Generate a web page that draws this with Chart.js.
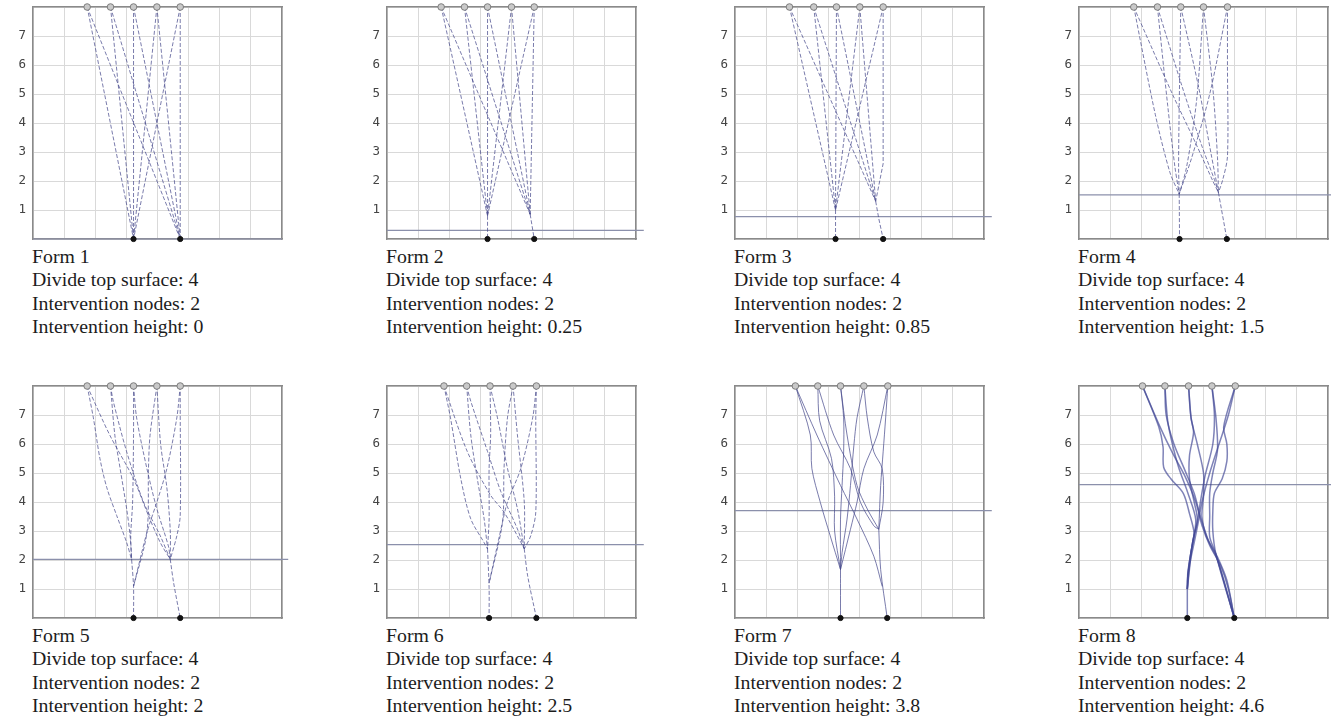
<!DOCTYPE html>
<html>
<head>
<meta charset="utf-8">
<script src="https://cdn.jsdelivr.net/npm/chart.js@4"></script>
<style>
  html, body { margin: 0; padding: 0; background: #fff; }
  body { width: 1331px; height: 726px; position: relative; overflow: hidden; }
  canvas { position: absolute; }
  .caption {
    position: absolute;
    font-family: "Liberation Serif", "Times New Roman", serif;
    font-size: 19.8px;
    line-height: 23.3px;
    color: #1c1c1c;
    white-space: nowrap;
  }
</style>
</head>
<body>
<script>
// labels under each panel
const formNames = ['Form 1', 'Form 2', 'Form 3', 'Form 4', 'Form 5', 'Form 6', 'Form 7', 'Form 8'];
const divideTop = [4, 4, 4, 4, 4, 4, 4, 4];
const interventionNodes = [2, 2, 2, 2, 2, 2, 2, 2];
const interventionHeight = ['0', '0.25', '0.85', '1.5', '2', '2.5', '3.8', '4.6'];

// horizontal marker line (height as drawn, and where it stops on the right)
const markY = [0, 0.3, 0.77, 1.52, 2.02, 2.53, 3.7, 4.6];
const markEnd = [8, 8.25, 8.25, 8.6, 8.2, 8.25, 8.25, 8.6];

// top surface nodes (y = 8) and ground nodes (y = 0)
const topX = [
  [1.74, 2.49, 3.23, 3.98, 4.73],
  [1.74, 2.49, 3.23, 4.0, 4.73],
  [1.75, 2.53, 3.26, 4.01, 4.76],
  [1.76, 2.52, 3.27, 4.0, 4.77],
  [1.74, 2.49, 3.23, 3.98, 4.73],
  [1.83, 2.56, 3.31, 4.05, 4.8],
  [1.94, 2.66, 3.39, 4.14, 4.91],
  [2.04, 2.76, 3.52, 4.27, 5.02]
];
const baseX = [
  [3.23, 4.73], [3.23, 4.73], [3.23, 4.76], [3.23, 4.75],
  [3.23, 4.73], [3.28, 4.8], [3.39, 4.89], [3.48, 4.99]
];

// branch paths, [x, y] points
const form1Paths = [
  [[1.74, 8], [3.23, 0]], [[2.49, 8], [3.23, 0]], [[3.23, 8], [3.23, 0]], [[3.98, 8], [3.23, 0]], [[4.73, 8], [3.23, 0]],
  [[1.74, 8], [4.73, 0]], [[2.49, 8], [4.73, 0]], [[3.23, 8], [4.73, 0]], [[3.98, 8], [4.73, 0]], [[4.73, 8], [4.73, 0]]
];
const form2Paths = [
  [[1.74, 8], [3.23, 0.8]], [[2.49, 8], [3.23, 0.8]], [[3.23, 8], [3.23, 0.8]], [[4.0, 8], [3.23, 0.8]], [[4.73, 8], [3.23, 0.8]],
  [[3.23, 0.8], [3.23, 0]],
  [[1.74, 8], [4.6, 0.85]], [[2.49, 8], [4.6, 0.85]], [[3.23, 8], [4.6, 0.85]], [[4.0, 8], [4.6, 0.85]], [[4.73, 8], [4.6, 0.85]],
  [[4.6, 0.85], [4.73, 0]]
];
const form3Paths = [
  [[1.75, 8], [3.23, 1.0]], [[2.53, 8], [3.23, 1.0]], [[3.26, 8], [3.23, 1.0]], [[4.01, 8], [3.23, 1.0]], [[4.76, 8], [3.23, 1.0]],
  [[3.23, 1.0], [3.23, 0]],
  [[1.75, 8], [4.52, 1.3]], [[2.53, 8], [4.52, 1.3]], [[3.26, 8], [4.52, 1.3]], [[4.01, 8], [4.52, 1.3]],
  [[4.76, 8], [4.76, 6.3], [4.76, 2.6], [4.52, 1.3]],
  [[4.52, 1.3], [4.62, 0.7], [4.76, 0]]
];
const form4Paths = [
  [[1.76, 8], [2.45, 4.3], [2.92, 2.3], [3.22, 1.55]],
  [[2.52, 8], [2.85, 4.6], [3.08, 2.5], [3.22, 1.55]],
  [[3.27, 8], [3.22, 4.6], [3.2, 2.5], [3.22, 1.55]],
  [[4.0, 8], [3.78, 4.8], [3.46, 2.5], [3.22, 1.55]],
  [[4.77, 8], [4.2, 5.0], [3.62, 2.8], [3.22, 1.55]],
  [[3.22, 1.55], [3.23, 0]],
  [[1.76, 8], [3.0, 5.0], [3.75, 3.3], [4.3, 2.0], [4.48, 1.6]],
  [[2.52, 8], [3.3, 5.3], [3.95, 3.2], [4.35, 2.05], [4.48, 1.6]],
  [[3.27, 8], [3.85, 5.2], [4.25, 2.9], [4.48, 1.6]],
  [[4.0, 8], [4.3, 5.2], [4.45, 2.8], [4.48, 1.6]],
  [[4.77, 8], [4.77, 6.0], [4.77, 2.85], [4.62, 2.05], [4.48, 1.6]],
  [[4.48, 1.6], [4.75, 0]]
];
const form5Paths = [
  [[1.74, 8], [1.94, 6.9], [2.15, 5.5], [2.37, 4.5], [2.69, 3.53], [3.01, 2.6], [3.17, 2.0]],
  [[2.49, 8], [2.63, 6.3], [2.8, 5.15], [3.01, 3.76], [3.12, 2.83], [3.17, 2.0]],
  [[3.23, 8], [3.23, 6.3], [3.2, 4.0], [3.14, 2.83], [3.17, 2.0]],
  [[3.98, 8], [3.76, 6.3], [3.71, 5.15], [3.66, 2.95], [3.23, 1.09]],
  [[4.73, 8], [4.62, 6.9], [4.3, 5.15], [3.98, 4.0], [3.66, 2.95], [3.23, 1.09]],
  [[3.17, 2.0], [3.23, 1.09], [3.23, 0]],
  [[1.74, 8], [2.47, 6.3], [3.23, 4.8], [3.71, 3.53], [4.09, 2.6], [4.41, 2.02]],
  [[2.49, 8], [2.58, 7.47], [3.01, 5.73], [3.55, 4.0], [4.09, 2.83], [4.41, 2.02]],
  [[3.23, 8], [3.33, 6.9], [3.66, 5.15], [3.98, 3.76], [4.35, 2.48], [4.41, 2.02]],
  [[3.98, 8], [4.1, 6.0], [4.3, 4.5], [4.41, 3.0], [4.41, 2.02]],
  [[4.73, 8], [4.73, 7.2], [4.73, 3.53], [4.62, 2.83], [4.41, 2.02]],
  [[4.41, 2.02], [4.52, 1.2], [4.73, 0]]
];
const form6Paths = [
  [[1.83, 8], [2.04, 6.9], [2.37, 4.81], [2.69, 3.42], [3.12, 2.6], [3.23, 2.38]],
  [[2.56, 8], [2.69, 6.32], [2.9, 4.81], [3.12, 3.42], [3.23, 2.38]],
  [[3.31, 8], [3.33, 6.32], [3.28, 5.16], [3.28, 3.42], [3.23, 2.38]],
  [[4.05, 8], [3.87, 6.9], [3.76, 5.16], [3.71, 3.3], [3.28, 1.2]],
  [[4.8, 8], [4.68, 6.9], [4.3, 5.16], [3.87, 4.0], [3.71, 3.3], [3.28, 1.2]],
  [[3.23, 2.38], [3.28, 1.05], [3.28, 0]],
  [[1.83, 8], [2.58, 5.74], [3.33, 4.23], [3.76, 3.65], [4.3, 2.61], [4.41, 2.38]],
  [[2.56, 8], [2.69, 7.48], [3.23, 5.74], [3.66, 4.35], [4.19, 3.07], [4.41, 2.38]],
  [[3.31, 8], [3.55, 6.9], [3.87, 5.16], [4.19, 3.77], [4.41, 2.38]],
  [[4.05, 8], [4.19, 6.32], [4.41, 4.0], [4.41, 2.38]],
  [[4.8, 8], [4.78, 6.9], [4.78, 3.65], [4.62, 2.84], [4.41, 2.38]],
  [[4.41, 2.38], [4.52, 1.45], [4.8, 0]]
];
const form7Paths = [
  [[1.94, 8], [2.42, 6.31], [2.47, 5.15], [2.74, 3.99], [3.06, 2.83], [3.39, 1.67]],
  [[2.66, 8], [2.72, 6.8], [3.1, 5.5], [3.2, 4.2], [3.2, 3.0], [3.39, 1.67]],
  [[3.39, 8], [3.49, 6.9], [3.49, 5.73], [3.44, 4.57], [3.39, 3.41], [3.39, 1.67]],
  [[4.14, 8], [3.92, 6.9], [3.82, 5.96], [3.71, 4.57], [3.6, 3.41], [3.44, 2.25], [3.39, 1.67]],
  [[4.91, 8], [4.57, 6.31], [4.14, 5.15], [3.92, 3.99], [3.71, 3.06], [3.39, 1.67]],
  [[3.39, 1.67], [3.39, 1.03], [3.39, 0]],
  [[1.94, 8], [2.63, 6.31], [3.39, 4.57], [3.92, 3.41], [4.46, 2.13], [4.73, 1.09]],
  [[2.66, 8], [3.17, 6.31], [3.71, 5.15], [4.03, 3.99], [4.46, 3.18], [4.62, 3.06]],
  [[3.39, 8], [3.6, 6.31], [3.92, 4.57], [4.25, 3.76], [4.62, 3.06]],
  [[4.14, 8], [4.25, 6.9], [4.46, 5.73], [4.73, 5.15], [4.76, 3.99], [4.62, 3.06]],
  [[4.91, 8], [4.84, 6.9], [4.76, 5.73], [4.68, 4.57], [4.62, 3.06]],
  [[4.62, 3.06], [4.68, 1.67], [4.89, 0]]
];
const form8Paths = [
  [[2.04, 8], [2.6, 6.6], [3.0, 5.7], [3.4, 4.9], [3.75, 4.0], [3.95, 3.2], [4.2, 2.5], [4.55, 1.8], [4.8, 1.0], [4.99, 0]],
  [[2.04, 8], [2.56, 6.6], [2.7, 5.9], [2.72, 5.2], [2.95, 4.8], [3.35, 4.3], [3.55, 3.6], [3.7, 2.9], [3.6, 2.3], [3.5, 1.5], [3.48, 1.0]],
  [[2.76, 8], [2.8, 7.0], [3.05, 6.0], [3.4, 5.1], [3.7, 4.3], [3.9, 3.5], [4.15, 2.7], [4.45, 2.1], [4.75, 1.3], [4.99, 0]],
  [[2.76, 8], [2.85, 6.8], [3.0, 6.0], [3.2, 5.2], [3.5, 4.3], [3.75, 3.4], [3.65, 2.6], [3.5, 1.6], [3.48, 1.0]],
  [[3.52, 8], [3.6, 6.9], [3.68, 6.4], [3.55, 5.6], [3.55, 4.8], [3.7, 4.0], [3.8, 3.4], [3.65, 2.6], [3.48, 1.0]],
  [[3.52, 8], [3.6, 6.9], [3.8, 6.0], [4.0, 5.0], [4.0, 4.2], [3.95, 3.5], [4.1, 2.8], [4.45, 2.0], [4.99, 0]],
  [[4.27, 8], [4.35, 7.0], [4.3, 6.0], [4.05, 4.9], [3.9, 4.0], [3.8, 3.3], [3.65, 2.6], [3.5, 1.5], [3.48, 1.0]],
  [[4.27, 8], [4.4, 6.9], [4.45, 5.8], [4.3, 5.0], [4.2, 4.3], [4.2, 3.5], [4.2, 2.8], [4.4, 2.2], [4.99, 0]],
  [[5.02, 8], [4.8, 7.0], [4.5, 6.0], [4.2, 5.0], [3.95, 4.0], [3.85, 3.4], [3.7, 2.6], [3.55, 1.8], [3.48, 1.0]],
  [[5.02, 8], [4.65, 6.6], [4.75, 6.0], [4.75, 5.4], [4.6, 4.8], [4.35, 4.3], [4.3, 3.7], [4.3, 3.0], [4.4, 2.2], [4.99, 0]],
  [[3.48, 1.0], [3.48, 0]]
];
const paths = [form1Paths, form2Paths, form3Paths, form4Paths, form5Paths, form6Paths, form7Paths, form8Paths];

// panel placement (plot box left / top edges)
const colLeft = [33, 387, 735, 1079];
const rowTop = [7, 386];

// hidden labels on the frame axes must not eat into the plot box
function noPad(s) {
    s.paddingTop = 0;
    s.paddingBottom = 0;
    s.paddingLeft = 0;
    s.paddingRight = 0;
}

function makePanel(i) {
    const boxLeft = colLeft[i % 4];
    const boxTop = rowTop[Math.floor(i / 4)];

    const canvas = document.createElement('canvas');
    canvas.width = 297;
    canvas.height = 245;
    canvas.style.left = (boxLeft - 33) + 'px';
    canvas.style.top = (boxTop - 7) + 'px';
    document.body.appendChild(canvas);

    const cap = document.createElement('div');
    cap.className = 'caption';
    cap.style.left = (boxLeft - 1) + 'px';
    cap.style.top = (boxTop + 238) + 'px';
    cap.innerHTML = formNames[i] + '<br>Divide top surface: ' + divideTop[i] +
        '<br>Intervention nodes: ' + interventionNodes[i] +
        '<br>Intervention height: ' + interventionHeight[i];
    document.body.appendChild(cap);

    const solid = i >= 6;
    const lineColor = i == 7 ? 'rgba(66,72,150,0.68)' : 'rgba(70,74,140,0.72)';
    const datasets = [];

    // nodes first so they sit on top
    datasets.push({
        data: topX[i].map(x => ({x: x, y: 8})),
        pointRadius: 3.3,
        pointBackgroundColor: '#c9c9c9',
        pointBorderColor: '#7d7d7d',
        pointBorderWidth: 1,
        showLine: false,
        clip: false
    });
    datasets.push({
        data: baseX[i].map(x => ({x: x, y: 0})),
        pointRadius: 2.6,
        pointBackgroundColor: '#111',
        pointBorderColor: '#111',
        showLine: false,
        clip: false
    });

    paths[i].forEach(p => {
        datasets.push({
            data: p.map(pt => ({x: pt[0], y: pt[1]})),
            showLine: true,
            borderColor: lineColor,
            borderWidth: i == 7 ? 1.5 : 1,
            borderDash: solid ? [] : [4, 2],
            pointRadius: 0,
            tension: i < 3 ? 0 : 0.3
        });
    });

    const hasDot = markY[i] > 0 && markEnd[i] < 8.5;
    datasets.push({
        data: [{x: 0, y: markY[i]}, {x: markEnd[i], y: markY[i]}],
        showLine: true,
        borderColor: '#8b90ab',
        borderWidth: 1.2,
        pointRadius: [0, hasDot ? 1.7 : 0],
        pointBackgroundColor: '#555',
        pointBorderColor: '#555',
        clip: false
    });

    const edge = {color: '#8a8a8a', width: 1.5};
    new Chart(canvas.getContext('2d'), {
        type: 'scatter',
        data: {datasets: datasets},
        options: {
            responsive: false,
            animation: false,
            devicePixelRatio: 1,
            layout: {padding: {top: 7, right: 15, bottom: 6, left: 0}},
            plugins: {legend: {display: false}, tooltip: {enabled: false}},
            scales: {
                x: {
                    type: 'linear', min: 0, max: 8,
                    ticks: {display: false, stepSize: 1},
                    grid: {color: '#d9d9d9', drawTicks: false},
                    border: edge,
                    afterFit: s => { s.height = 0; noPad(s); }
                },
                x2: {
                    type: 'linear', position: 'top', min: 0, max: 8,
                    ticks: {display: false},
                    grid: {display: false, drawTicks: false},
                    border: edge,
                    afterFit: s => { s.height = 0; noPad(s); }
                },
                y: {
                    type: 'linear', min: 0, max: 8,
                    ticks: {
                        stepSize: 1, padding: 7, color: '#444',
                        font: {family: 'DejaVu Sans Mono', size: 12.5},
                        callback: v => (v >= 1 && v <= 7) ? v : ''
                    },
                    grid: {color: '#d9d9d9', drawTicks: false},
                    border: edge,
                    afterFit: s => { s.width = 33; noPad(s); }
                },
                y2: {
                    type: 'linear', position: 'right', min: 0, max: 8,
                    ticks: {display: false},
                    grid: {display: false, drawTicks: false},
                    border: edge,
                    afterFit: s => { s.width = 0; noPad(s); }
                }
            }
        }
    });
}

for (let i = 0; i < 8; i++) {
    makePanel(i);
}
</script>
</body>
</html>
